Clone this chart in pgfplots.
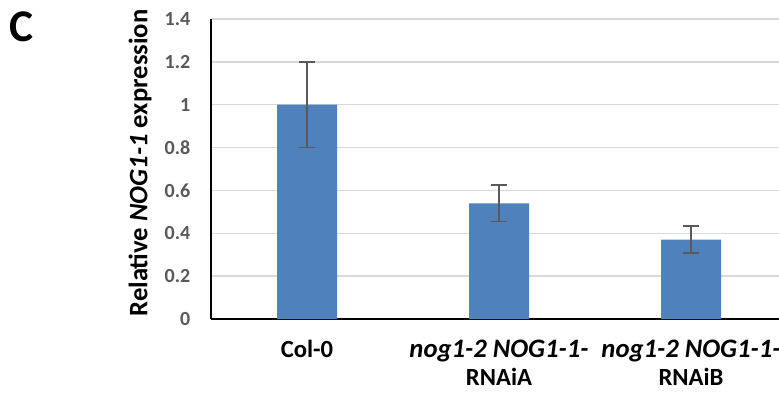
\documentclass[border=0pt]{standalone}
\usepackage{pgfplots}
\pgfplotsset{compat=1.18}
\usepackage{fontspec}
\setmainfont{Carlito}
\definecolor{barblue}{HTML}{4F81BD}
\definecolor{tickgray}{HTML}{595959}
\definecolor{gridgray}{HTML}{D9D9D9}
\begin{document}
\begin{tikzpicture}
\useasboundingbox (0,0) rectangle (584.25pt,295.5pt);
\clip (0,0) rectangle (584.25pt,295.5pt);
\node[anchor=north west, inner sep=0pt, font=\fontsize{34}{40}\selectfont\bfseries] at (7pt,287pt) {C};
\begin{axis}[
  at={(158.25pt,56.25pt)}, anchor=south west,
  scale only axis, width=432pt, height=225pt,
  xmin=-0.5, xmax=2.5, ymin=0, ymax=1.4,
  ytick={0,0.2,...,1.4},
  yticklabels={0,0.2,0.4,0.6,0.8,1,1.2,1.4},
  xtick={0,1,2},
  xticklabels={Col-0,{\fontsize{20}{21}\selectfont\textit{nog1-2 NOG1-1-}}\\RNAiA,{\fontsize{20}{21}\selectfont\textit{nog1-2 NOG1-1-}}\\RNAiB},
  axis x line=bottom, axis y line=left,
  axis line style={-, black, line width=1.2pt},
  major tick length=0pt,
  ymajorgrids, grid style={gridgray, line width=1pt},
  yticklabel style={font=\fontsize{15}{17}\selectfont\bfseries, text=tickgray, anchor=east, xshift=-12pt},
  xticklabel style={font=\fontsize{18.5}{21}\selectfont\bfseries, align=center, anchor=north, yshift=-12pt},
  ylabel={Relative \textit{NOG1-1} expression},
  ylabel style={font=\fontsize{20}{22}\selectfont\bfseries, at={(axis description cs:-0.1233,0.52)}, anchor=center},
  clip=false,
]
\addplot[ybar, bar width=45pt, fill=barblue, draw=none,
  error bars/.cd, y dir=both, y explicit,
  error bar style={tickgray, line width=1.2pt},
  error mark options={rotate=90, mark size=6pt, line width=1.2pt, tickgray}]
  coordinates {(0,1.0) +- (0,0.2) (1,0.54) +- (0,0.085) (2,0.37) +- (0,0.063)};
\end{axis}
\end{tikzpicture}
\end{document}
